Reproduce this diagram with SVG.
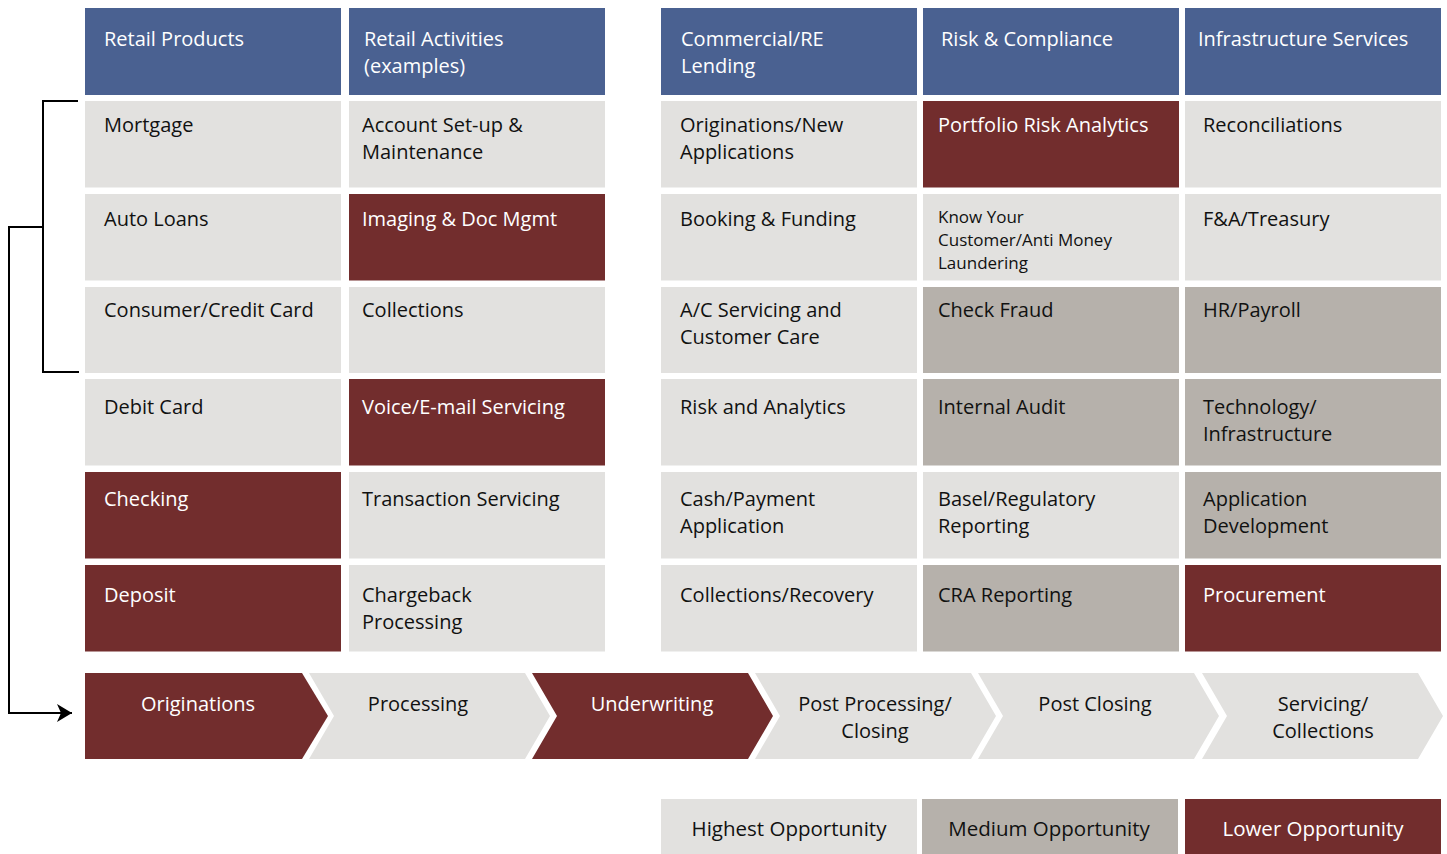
<svg xmlns="http://www.w3.org/2000/svg" width="1447" height="854" viewBox="0 0 1447 854">
<style>
.h{fill:#4A6191}
.l{fill:#E2E1DF}
.m{fill:#B6B1AB}
.d{fill:#722D2D}
text{font-family:"Open Sans","Liberation Sans",sans-serif;font-size:20px}
.tw{fill:#FFFFFF}
.tb{fill:#111111}
.c{text-anchor:middle}
.sm{font-size:17px}
.lg{font-size:20.5px}
.ln{fill:none;stroke:#000;stroke-width:2}
</style>
<defs>
<marker id="ah" markerWidth="16" markerHeight="20" refX="15" refY="10" orient="auto" markerUnits="userSpaceOnUse">
<path d="M0,1 L15,10 L0,19 L4,10 Z" fill="#000"/>
</marker>
</defs>
<rect width="1447" height="854" fill="#FFFFFF"/>

<g id="connectors">
<path class="ln" d="M78,101 H43 V372 H79"/>
<path class="ln" d="M43,227 H9 V713 H72" marker-end="url(#ah)"/>
</g>

<!-- headers -->
<g id="hdr-retail-products"><rect class="h" x="85" y="8" width="256" height="87"/><text class="tw" x="104" y="46">Retail Products</text></g>
<g id="hdr-retail-activities"><rect class="h" x="349" y="8" width="256" height="87"/><text class="tw" x="364" y="46">Retail Activities</text><text class="tw" x="364" y="73">(examples)</text></g>
<g id="hdr-commercial"><rect class="h" x="661" y="8" width="256" height="87"/><text class="tw" x="681" y="46">Commercial/RE</text><text class="tw" x="681" y="73">Lending</text></g>
<g id="hdr-risk"><rect class="h" x="923" y="8" width="256" height="87"/><text class="tw" x="941" y="46">Risk &amp; Compliance</text></g>
<g id="hdr-infra"><rect class="h" x="1185" y="8" width="256" height="87"/><text class="tw" x="1198" y="46">Infrastructure Services</text></g>

<!-- row 1 -->
<g id="mortgage"><rect class="l" x="85" y="101" width="256" height="86.5"/><text class="tb" x="104" y="132">Mortgage</text></g>
<g id="account-setup"><rect class="l" x="349" y="101" width="256" height="86.5"/><text class="tb" x="362" y="132">Account Set-up &amp;</text><text class="tb" x="362" y="159">Maintenance</text></g>
<g id="originations-new"><rect class="l" x="661" y="101" width="256" height="86.5"/><text class="tb" x="680" y="132">Originations/New</text><text class="tb" x="680" y="159">Applications</text></g>
<g id="portfolio-risk"><rect class="d" x="923" y="101" width="256" height="86.5"/><text class="tw" x="938" y="132">Portfolio Risk Analytics</text></g>
<g id="reconciliations"><rect class="l" x="1185" y="101" width="256" height="86.5"/><text class="tb" x="1203" y="132">Reconciliations</text></g>

<!-- row 2 -->
<g id="auto-loans"><rect class="l" x="85" y="194" width="256" height="86.5"/><text class="tb" x="104" y="226">Auto Loans</text></g>
<g id="imaging"><rect class="d" x="349" y="194" width="256" height="86.5"/><text class="tw" x="362" y="226">Imaging &amp; Doc Mgmt</text></g>
<g id="booking"><rect class="l" x="661" y="194" width="256" height="86.5"/><text class="tb" x="680" y="226">Booking &amp; Funding</text></g>
<g id="kyc"><rect class="l" x="923" y="194" width="256" height="86.5"/><text class="tb sm" x="938" y="223">Know Your</text><text class="tb sm" x="938" y="246">Customer/Anti Money</text><text class="tb sm" x="938" y="269">Laundering</text></g>
<g id="fa-treasury"><rect class="l" x="1185" y="194" width="256" height="86.5"/><text class="tb" x="1203" y="226">F&amp;A/Treasury</text></g>

<!-- row 3 -->
<g id="consumer-credit"><rect class="l" x="85" y="287" width="256" height="86"/><text class="tb" x="104" y="317">Consumer/Credit Card</text></g>
<g id="collections"><rect class="l" x="349" y="287" width="256" height="86"/><text class="tb" x="362" y="317">Collections</text></g>
<g id="ac-servicing"><rect class="l" x="661" y="287" width="256" height="86"/><text class="tb" x="680" y="317">A/C Servicing and</text><text class="tb" x="680" y="344">Customer Care</text></g>
<g id="check-fraud"><rect class="m" x="923" y="287" width="256" height="86"/><text class="tb" x="938" y="317">Check Fraud</text></g>
<g id="hr-payroll"><rect class="m" x="1185" y="287" width="256" height="86"/><text class="tb" x="1203" y="317">HR/Payroll</text></g>

<!-- row 4 -->
<g id="debit-card"><rect class="l" x="85" y="379" width="256" height="86.5"/><text class="tb" x="104" y="414">Debit Card</text></g>
<g id="voice-email"><rect class="d" x="349" y="379" width="256" height="86.5"/><text class="tw" x="362" y="414">Voice/E-mail Servicing</text></g>
<g id="risk-analytics"><rect class="l" x="661" y="379" width="256" height="86.5"/><text class="tb" x="680" y="414">Risk and Analytics</text></g>
<g id="internal-audit"><rect class="m" x="923" y="379" width="256" height="86.5"/><text class="tb" x="938" y="414">Internal Audit</text></g>
<g id="technology"><rect class="m" x="1185" y="379" width="256" height="86.5"/><text class="tb" x="1203" y="414">Technology/</text><text class="tb" x="1203" y="441">Infrastructure</text></g>

<!-- row 5 -->
<g id="checking"><rect class="d" x="85" y="472" width="256" height="86.5"/><text class="tw" x="104" y="506">Checking</text></g>
<g id="transaction-servicing"><rect class="l" x="349" y="472" width="256" height="86.5"/><text class="tb" x="362" y="506">Transaction Servicing</text></g>
<g id="cash-payment"><rect class="l" x="661" y="472" width="256" height="86.5"/><text class="tb" x="680" y="506">Cash/Payment</text><text class="tb" x="680" y="533">Application</text></g>
<g id="basel"><rect class="l" x="923" y="472" width="256" height="86.5"/><text class="tb" x="938" y="506">Basel/Regulatory</text><text class="tb" x="938" y="533">Reporting</text></g>
<g id="app-dev"><rect class="m" x="1185" y="472" width="256" height="86.5"/><text class="tb" x="1203" y="506">Application</text><text class="tb" x="1203" y="533">Development</text></g>

<!-- row 6 -->
<g id="deposit"><rect class="d" x="85" y="565" width="256" height="86.5"/><text class="tw" x="104" y="602">Deposit</text></g>
<g id="chargeback"><rect class="l" x="349" y="565" width="256" height="86.5"/><text class="tb" x="362" y="602">Chargeback</text><text class="tb" x="362" y="629">Processing</text></g>
<g id="collections-recovery"><rect class="l" x="661" y="565" width="256" height="86.5"/><text class="tb" x="680" y="602">Collections/Recovery</text></g>
<g id="cra-reporting"><rect class="m" x="923" y="565" width="256" height="86.5"/><text class="tb" x="938" y="602">CRA Reporting</text></g>
<g id="procurement"><rect class="d" x="1185" y="565" width="256" height="86.5"/><text class="tw" x="1203" y="602">Procurement</text></g>

<!-- process chevrons -->
<g id="chev-originations"><path class="d" d="M85,673 H302 L328,716 L302,759 H85 Z"/><text class="tw c" x="198" y="711">Originations</text></g>
<g id="chev-processing"><path class="l" d="M309,673 H525 L550,716 L525,759 H309 L334,716 Z"/><text class="tb c" x="418" y="711">Processing</text></g>
<g id="chev-underwriting"><path class="d" d="M532,673 H748 L773,716 L748,759 H532 L557,716 Z"/><text class="tw c" x="652" y="711">Underwriting</text></g>
<g id="chev-post-processing"><path class="l" d="M755,673 H971 L996,716 L971,759 H755 L780,716 Z"/><text class="tb c" x="875" y="711">Post Processing/</text><text class="tb c" x="875" y="738">Closing</text></g>
<g id="chev-post-closing"><path class="l" d="M978,673 H1194 L1219,716 L1194,759 H978 L1003,716 Z"/><text class="tb c" x="1095" y="711">Post Closing</text></g>
<g id="chev-servicing"><path class="l" d="M1202,673 H1418 L1443,716 L1418,759 H1202 L1227,716 Z"/><text class="tb c" x="1323" y="711">Servicing/</text><text class="tb c" x="1323" y="738">Collections</text></g>

<!-- legend -->
<g id="legend-highest"><rect class="l" x="661" y="799" width="256" height="55"/><text class="tb c lg" x="789" y="836">Highest Opportunity</text></g>
<g id="legend-medium"><rect class="m" x="922" y="799" width="256" height="55"/><text class="tb c lg" x="1049" y="836">Medium Opportunity</text></g>
<g id="legend-lower"><rect class="d" x="1185" y="799" width="256" height="55"/><text class="tw c lg" x="1313" y="836">Lower Opportunity</text></g>
</svg>
